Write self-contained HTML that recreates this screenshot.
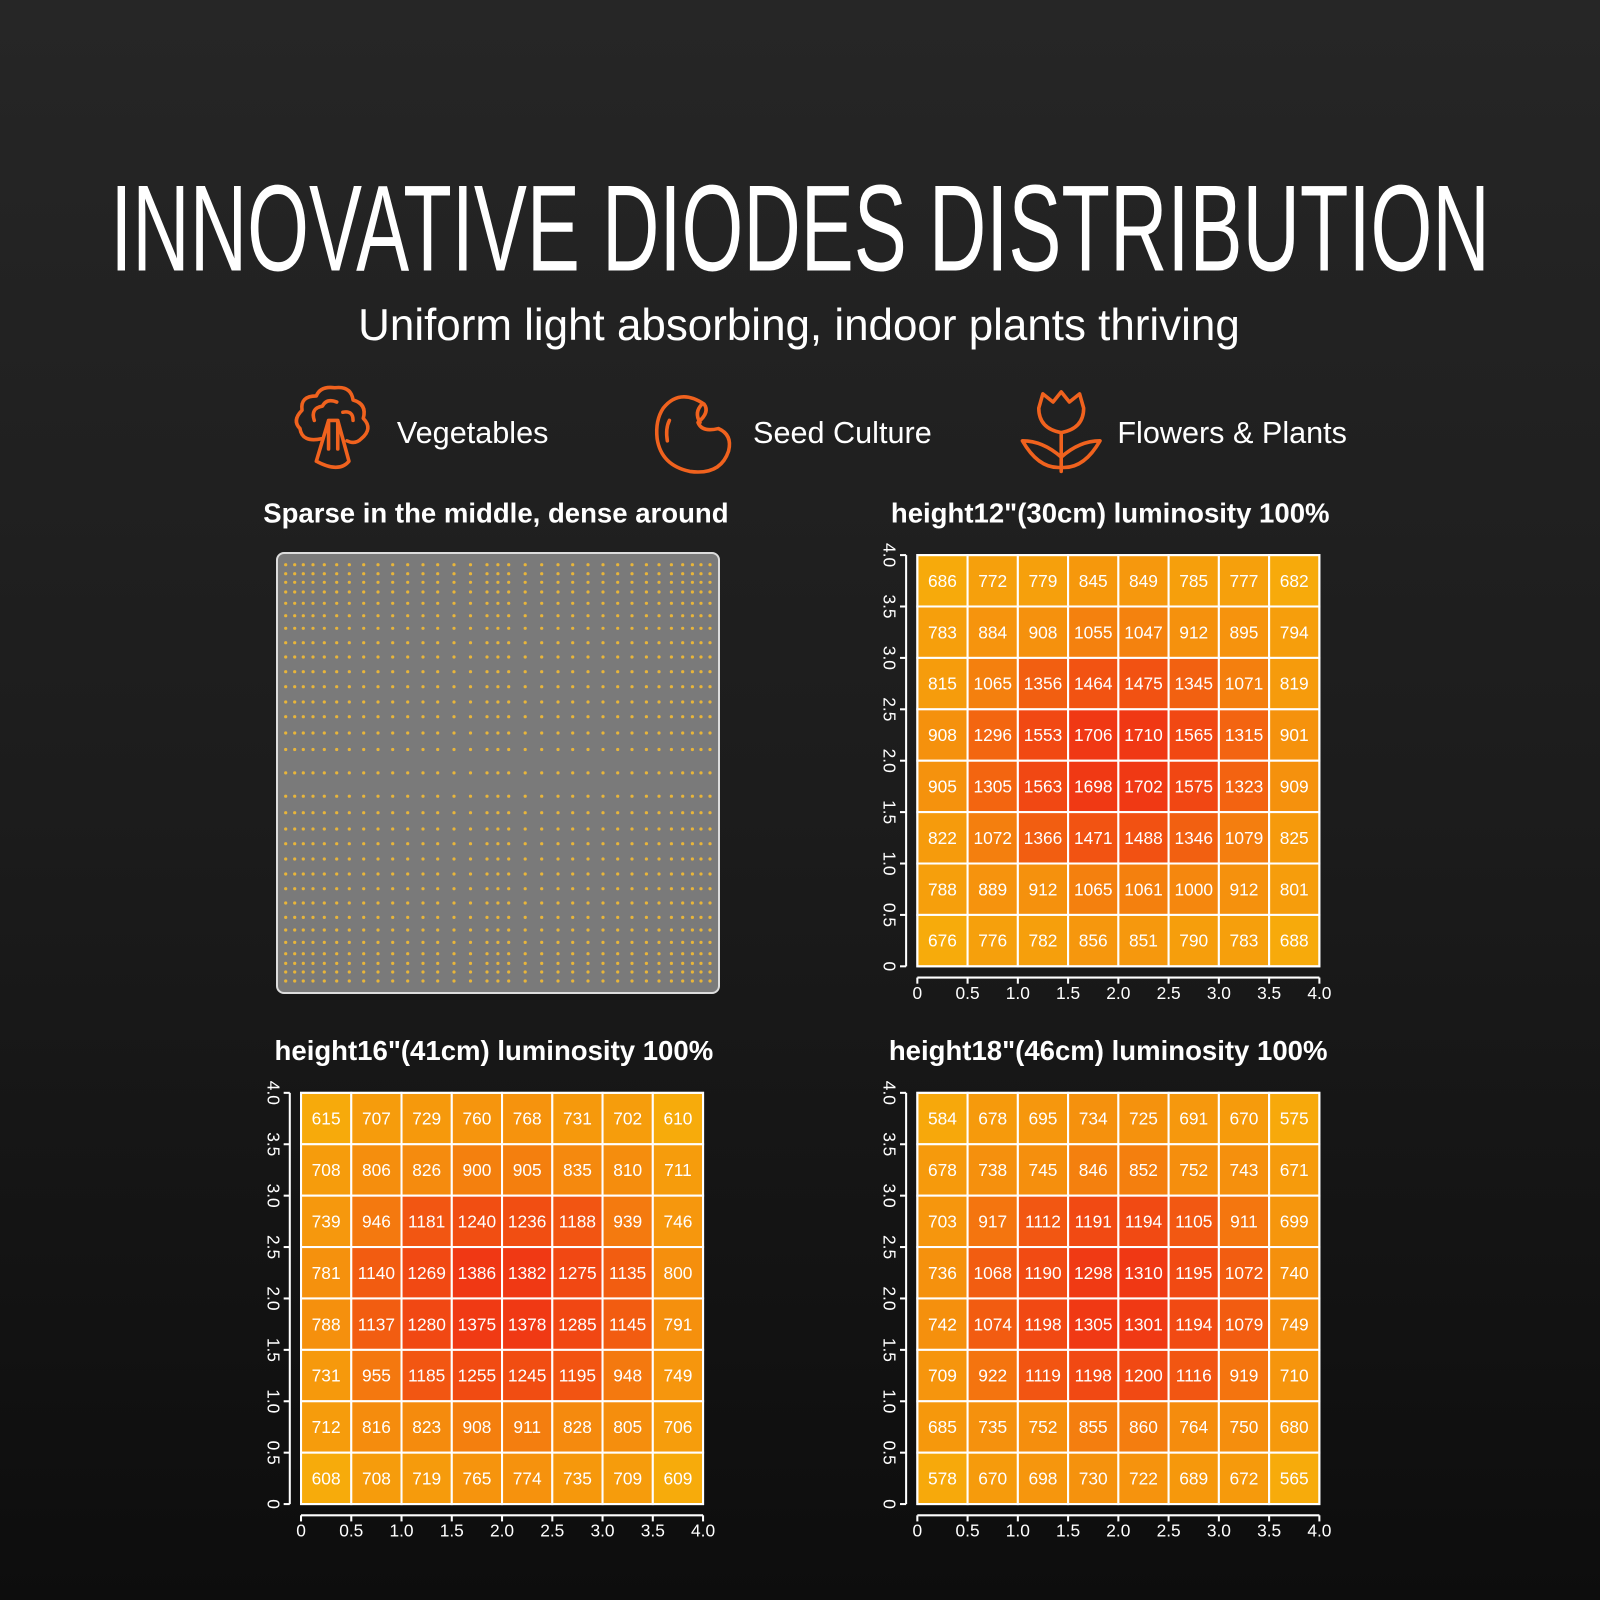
<!DOCTYPE html>
<html><head><meta charset="utf-8"><style>
html,body{margin:0;padding:0;width:1600px;height:1600px;overflow:hidden;background:linear-gradient(#262626,#1c1c1c 50%,#0d0d0d);}
svg{display:block}
</style></head><body>
<svg id="s" width="1600" height="1600" xmlns="http://www.w3.org/2000/svg" font-family="Liberation Sans, Arial, sans-serif">
<rect x="277" y="553" width="442" height="440" rx="7" fill="#7a7a7a" stroke="#ddd" stroke-width="2"/>
<g id="dots" fill="#e8b53a"></g>
<g transform="scale(1.0204)">
<text x="784" y="265" fill="#fff" font-family="Liberation Sans Narrow, Liberation Sans, sans-serif" font-size="120" text-anchor="middle" textLength="1352" lengthAdjust="spacingAndGlyphs">INNOVATIVE DIODES DISTRIBUTION</text>
<text x="783" y="333" fill="#fff" font-size="44" text-anchor="middle" textLength="864" lengthAdjust="spacingAndGlyphs">Uniform light absorbing, indoor plants thriving</text>
<g fill="#fff" font-size="30">
<text x="389" y="434">Vegetables</text>
<text x="738" y="434">Seed Culture</text>
<text x="1095" y="434">Flowers &amp; Plants</text>
</g>
<g fill="none" stroke="#f0621e" stroke-width="3.5" stroke-linecap="round" stroke-linejoin="round">
<path d="M322 412 L310 452 Q332 464 342 452 L331 412 Z M322 412 L322 440 M331 412 L331 440"/>
<path d="M315 430 Q296 434 294 420 Q286 412 296 402 Q294 388 310 388 Q314 378 328 380 Q344 378 346 392 Q360 396 356 410 Q366 420 354 430 Q348 436 340 432"/>
<path d="M308 412 Q304 400 316 398 Q320 390 330 394 M336 404 Q346 402 346 412"/>
<path d="M650 400 Q666 380 690 396 Q696 404 684 414 Q688 424 704 420 Q718 426 714 442 Q706 466 676 462 Q648 456 644 430 Q642 412 650 400 Z"/>
<path d="M656 412 Q652 420 654 432 M686 414 Q680 404 688 396"/>
<path d="M1018 400 L1022 386 L1032 394 L1040 384 L1048 394 L1058 386 L1062 400 Q1062 420 1040 424 Q1018 420 1018 400 Z"/>
<path d="M1040 424 L1040 462 M1040 458 Q1018 460 1002 432 Q1022 432 1040 448 M1040 458 Q1062 460 1078 432 Q1058 432 1040 448"/>
</g>
<g fill="#fff" font-size="27" font-weight="bold">
<text x="486" y="512" text-anchor="middle">Sparse in the middle, dense around</text>
<text x="1088" y="512" text-anchor="middle">height12"(30cm)  luminosity 100%</text>
<text x="484" y="1039" text-anchor="middle">height16"(41cm)  luminosity 100%</text>
<text x="1086" y="1039" text-anchor="middle">height18"(46cm)  luminosity 100%</text>
</g>
<g id="charts"></g>
</g>
</svg>
<script>
var NS="http://www.w3.org/2000/svg";
function el(t,a,p,txt){var e=document.createElementNS(NS,t);for(var k in a)e.setAttribute(k,a[k]);if(txt!=null)e.textContent=txt;(p||document.getElementById('charts')).appendChild(e);return e;}
var gaps=[9,8.6,9.7,11.3,12.4,12.6,14.4,14.3,14.7,15,15.3,14.7,16.3,16.5,16.5];
function pos(start,end){var a=[start],c=start;for(var i=0;i<gaps.length;i++){c+=gaps[i];a.push(c);}var mid=(start+end)/2;var res=[];a.forEach(function(v){if(v<mid-10){res.push(v);res.push(start+end-v);}});res.push(mid);return res;}
var xs=pos(285.7,710),ys=pos(564.7,981);
var dg=document.getElementById('dots');
xs.forEach(function(x){ys.forEach(function(y){el('circle',{cx:x.toFixed(1),cy:y.toFixed(1),r:1.6},dg);});});
var data=[
[899,544,[[686,772,779,845,849,785,777,682],[783,884,908,1055,1047,912,895,794],[815,1065,1356,1464,1475,1345,1071,819],[908,1296,1553,1706,1710,1565,1315,901],[905,1305,1563,1698,1702,1575,1323,909],[822,1072,1366,1471,1488,1346,1079,825],[788,889,912,1065,1061,1000,912,801],[676,776,782,856,851,790,783,688]]],
[295,1071,[[615,707,729,760,768,731,702,610],[708,806,826,900,905,835,810,711],[739,946,1181,1240,1236,1188,939,746],[781,1140,1269,1386,1382,1275,1135,800],[788,1137,1280,1375,1378,1285,1145,791],[731,955,1185,1255,1245,1195,948,749],[712,816,823,908,911,828,805,706],[608,708,719,765,774,735,709,609]]],
[899,1071,[[584,678,695,734,725,691,670,575],[678,738,745,846,852,752,743,671],[703,917,1112,1191,1194,1105,911,699],[736,1068,1190,1298,1310,1195,1072,740],[742,1074,1198,1305,1301,1194,1079,749],[709,922,1119,1198,1200,1116,919,710],[685,735,752,855,860,764,750,680],[578,670,698,730,722,689,672,565]]]];
var c0=[247,171,11],c1=[240,56,20];
function col(t){var r=[0,1,2].map(function(i){return Math.round(c0[i]+(c1[i]-c0[i])*t);});return 'rgb('+r.join(',')+')';}
var labs=['0','0.5','1.0','1.5','2.0','2.5','3.0','3.5','4.0'];
data.forEach(function(d){
 var X=d[0],Y=d[1],m=d[2],W=394,H=403,cw=W/8,ch=H/8;
 var mn=1e9,mx=0;m.forEach(function(r){r.forEach(function(v){mn=Math.min(mn,v);mx=Math.max(mx,v);});});
 for(var r=0;r<8;r++)for(var c=0;c<8;c++){var v=m[r][c];var t=(v-mn)/(mx-mn);
  el('rect',{x:X+c*cw,y:Y+r*ch,width:cw,height:ch,fill:col(t),stroke:'#fff','stroke-width':2});
  el('text',{x:X+c*cw+cw/2,y:Y+r*ch+ch/2+6,fill:'#fff','font-size':17,'text-anchor':'middle'},null,v);}
 el('rect',{x:X,y:Y,width:W,height:H,fill:'none',stroke:'#fff','stroke-width':2});
 var ax=X-11;
 el('line',{x1:ax,y1:Y,x2:ax,y2:Y+H,stroke:'#fff','stroke-width':2});
 for(var i=0;i<9;i++){var yy=Y+H-i*H/8;el('line',{x1:ax-6,y1:yy,x2:ax,y2:yy,stroke:'#fff','stroke-width':2});
  el('text',{x:0,y:0,fill:'#fff','font-size':17,'text-anchor':'middle',transform:'translate('+(ax-22)+','+yy+') rotate(90)'},null,labs[i]);}
 var ay=Y+H+11;
 el('line',{x1:X,y1:ay,x2:X+W,y2:ay,stroke:'#fff','stroke-width':2});
 for(var i=0;i<9;i++){var xx=X+i*W/8;el('line',{x1:xx,y1:ay,x2:xx,y2:ay+6,stroke:'#fff','stroke-width':2});
  el('text',{x:xx,y:ay+21,fill:'#fff','font-size':17,'text-anchor':'middle'},null,labs[i]);}
});
</script>
</body></html>
